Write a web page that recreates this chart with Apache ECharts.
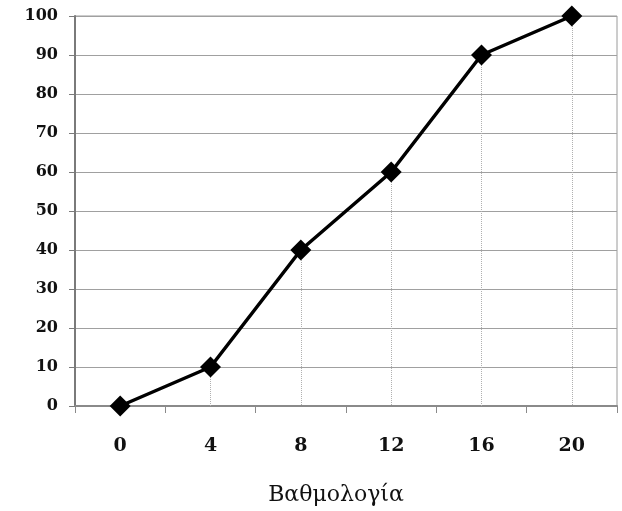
<!DOCTYPE html>
<html>
<head>
<meta charset="utf-8">
<script src="https://cdn.jsdelivr.net/npm/echarts@6/dist/echarts.min.js"></script>
<style>
  html, body { margin: 0; padding: 0; background: #fff; }
  #chart { width: 622px; height: 511px; }
</style>
</head>
<body>
<div id="chart"></div>
<script>
// Grades on the horizontal axis, cumulative percentage on the vertical axis
var grades = ['0', '4', '8', '12', '16', '20'];
var cumulative = [0, 10, 40, 60, 90, 100];
var yMin = 0, yMax = 100, yStep = 10;
var axisTitle = 'Βαθμολογία';

// Dotted drop lines from each point down to the baseline
var dropLines = grades.map(function (g, i) {
  return [{ coord: [i, cumulative[i]] }, { coord: [i, yMin] }];
});

var chart = echarts.init(document.getElementById('chart'), null, { renderer: 'canvas' });
chart.setOption({
  animation: false,
  backgroundColor: '#fff',
  grid: {
    left: 75, right: 5, top: 16, bottom: 103,
    show: true, borderColor: '#9a9a9a', borderWidth: 1
  },
  xAxis: {
    type: 'category',
    data: grades,
    boundaryGap: true,
    axisLine: { lineStyle: { color: '#8a8a8a', width: 2 } },
    axisTick: { show: true, length: 7, inside: false, lineStyle: { color: '#8a8a8a', width: 1 } },
    splitLine: { show: false },
    axisLabel: {
      margin: 31,
      color: '#111',
      fontFamily: 'DejaVu Serif',
      fontWeight: 'bold',
      fontSize: 19
    },
    name: axisTitle,
    nameLocation: 'middle',
    nameGap: 78,
    nameTextStyle: {
      color: '#111', fontFamily: 'DejaVu Serif', fontSize: 22,
      padding: [0, 20, 0, 0]
    }
  },
  yAxis: {
    type: 'value',
    min: yMin, max: yMax, interval: yStep,
    axisLine: { show: true, lineStyle: { color: '#7a7a7a', width: 2 } },
    axisTick: { show: true, length: 6, lineStyle: { color: '#7a7a7a', width: 1 } },
    splitLine: { show: true, lineStyle: { color: '#a0a0a0', width: 1 } },
    axisLabel: {
      margin: 17,
      color: '#111',
      fontFamily: 'DejaVu Serif',
      fontWeight: 'bold',
      fontSize: 16
    }
  },
  series: [{
    type: 'line',
    data: cumulative,
    symbol: 'diamond',
    symbolSize: 21,
    itemStyle: { color: '#000' },
    lineStyle: { color: '#000', width: 3.5 },
    z: 5,
    markLine: {
      silent: true,
      symbol: ['none', 'none'],
      label: { show: false },
      lineStyle: { color: '#b0b0b0', type: 'dotted', width: 1 },
      z: 1,
      data: dropLines
    }
  }]
});
</script>
</body>
</html>
